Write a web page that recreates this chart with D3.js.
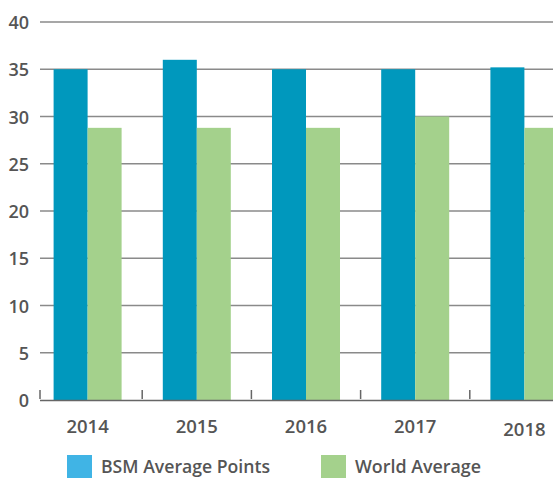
<!DOCTYPE html>
<html>
<head>
<meta charset="utf-8">
<script src="https://cdn.jsdelivr.net/npm/d3@7"></script>
<style>
    body { margin: 0; background: #fff; }
    svg text { font-family: "Open Sans", sans-serif; font-weight: 600; fill: #555; }
</style>
</head>
<body>
<svg id="chart" width="553" height="478"></svg>
<script>
// Chart data
var years = ["2014", "2015", "2016", "2017", "2018"];
var bsm = [35.0, 36.0, 35.0, 35.0, 35.2];
var world = [28.8, 28.8, 28.8, 30.0, 28.8];
var yTicks = [0, 5, 10, 15, 20, 25, 30, 35, 40];
var seriesNames = ["BSM Average Points", "World Average"];

var svg = d3.select("#chart");

// Scales
var x = d3.scaleBand().domain(years).range([33, 579]);
var y = d3.scaleLinear().domain([0, 40]).range([400, 22]);
var barW = 34;

// Gridlines
svg.append("g").selectAll("line")
    .data(yTicks.filter(t => t > 0))
    .join("line")
    .attr("x1", 40).attr("x2", 553)
    .attr("y1", d => y(d)).attr("y2", d => y(d))
    .attr("stroke", "#8a8a8a")
    .attr("stroke-width", 1.5);

// Y labels
svg.append("g").selectAll("text")
    .data(yTicks)
    .join("text")
    .attr("x", 29)
    .attr("y", d => y(d) + 7)
    .attr("text-anchor", "end")
    .attr("font-size", 18)
    .text(d => d);

// Bars
var groups = svg.append("g").selectAll("g")
    .data(years)
    .join("g");

groups.append("rect")
    .attr("x", (d, i) => x(d) + x.bandwidth() / 2 - barW)
    .attr("y", (d, i) => y(bsm[i]))
    .attr("width", barW)
    .attr("height", (d, i) => y(0) - y(bsm[i]))
    .attr("fill", "#0098bd");

groups.append("rect")
    .attr("x", (d, i) => x(d) + x.bandwidth() / 2)
    .attr("y", (d, i) => y(world[i]))
    .attr("width", barW)
    .attr("height", (d, i) => y(0) - y(world[i]))
    .attr("fill", "#a4d18c");

// Baseline and category separators
svg.append("line")
    .attr("x1", 40).attr("x2", 553)
    .attr("y1", 400.5).attr("y2", 400.5)
    .attr("stroke", "#666")
    .attr("stroke-width", 1.5);

svg.append("g").selectAll("line")
    .data(years)
    .join("line")
    .attr("x1", (d, i) => i == 0 ? 40 : x(d)).attr("x2", (d, i) => i == 0 ? 40 : x(d))
    .attr("y1", 390).attr("y2", 399)
    .attr("stroke", "#666")
    .attr("stroke-width", 1.5);

// X labels
svg.append("g").selectAll("text")
    .data(years)
    .join("text")
    .attr("x", d => x(d) + x.bandwidth() / 2)
    .attr("y", (d, i) => i == 4 ? 436 : 433)
    .attr("text-anchor", "middle")
    .attr("font-size", 18.5)
    .text(d => d);

// Legend
var legend = [
    { name: seriesNames[0], color: "#40b4e5", x: 67, w: 169 },
    { name: seriesNames[1], color: "#a4d18c", x: 321, w: 126 }
];
var lg = svg.append("g").selectAll("g")
    .data(legend)
    .join("g")
    .attr("transform", d => "translate(" + d.x + ",455)");
lg.append("rect")
    .attr("width", 25).attr("height", 23)
    .attr("fill", d => d.color);
lg.append("text")
    .attr("x", 34).attr("y", 18)
    .attr("font-size", 18)
    .attr("textLength", d => d.w)
    .attr("lengthAdjust", "spacingAndGlyphs")
    .text(d => d.name);
</script>
</body>
</html>
